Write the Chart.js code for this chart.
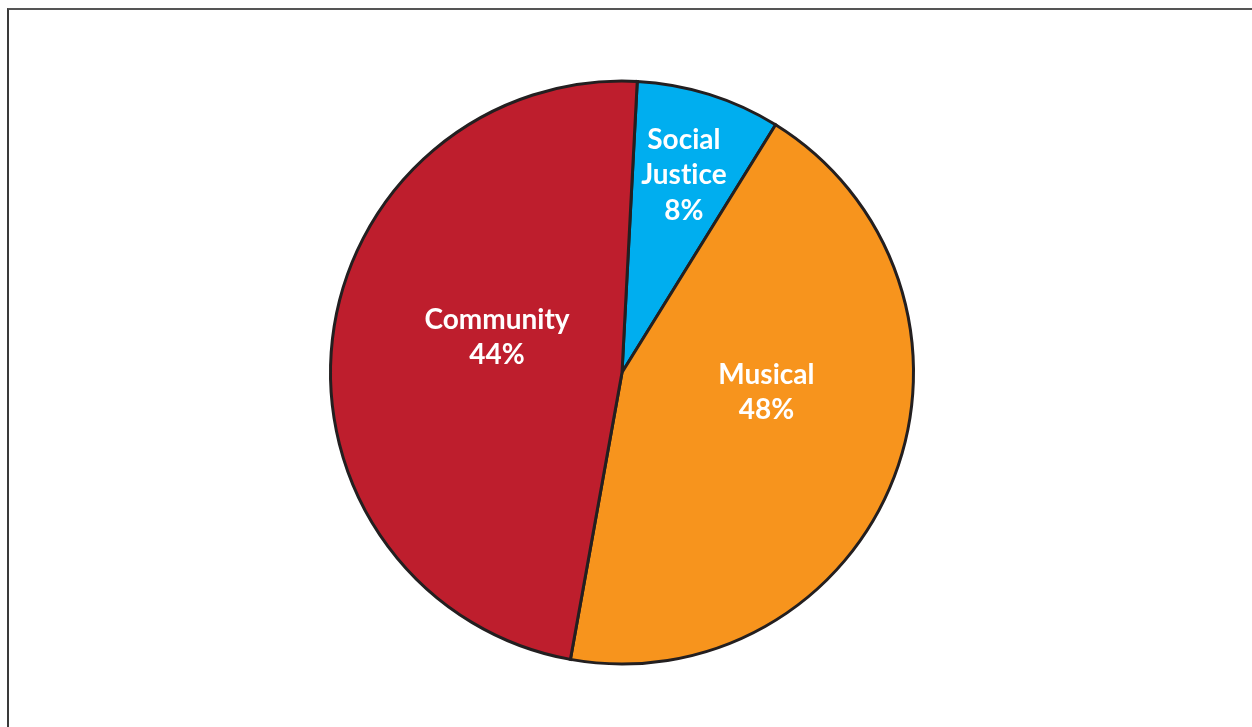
<!DOCTYPE html>
<html>
<head>
<meta charset="utf-8">
<script src="https://cdn.jsdelivr.net/npm/chart.js@4/dist/chart.umd.min.js"></script>
<style>
  html, body { margin: 0; padding: 0; background: #fff; overflow: hidden; }
  #wrap { position: relative; width: 1252px; height: 727px; }
  #frame { position: absolute; left: 7px; top: 8px; width: 1300px; height: 800px;
           border-left: 2px solid #3a3a3a; border-top: 2px solid #555; box-sizing: border-box; }
  canvas { position: absolute; left: 0; top: 0; }
</style>
</head>
<body>
<div id="wrap">
  <div id="frame"></div>
  <canvas id="c" width="1252" height="727"></canvas>
</div>
<script>
// Data (slice sizes as drawn; label texts as printed)
const categories = ["Social Justice", "Musical", "Community"];
const sliceValues = [8, 44, 48];
const labelLines = [["Social", "Justice", "8%"], ["Musical", "48%"], ["Community", "44%"]];
const sliceColors = ["#00AEEF", "#F7941D", "#BE1E2D"];

const labelPlugin = {
  id: 'sliceLabels',
  afterDatasetsDraw(chart, args, opts) {
    const ctx = chart.ctx;
    const meta = chart.getDatasetMeta(0);
    meta.data.forEach((arc, i) => {
      const p = opts.place[i];
      const a = arc.startAngle + (arc.endAngle - arc.startAngle) * p.t;
      const r = arc.outerRadius * p.r;
      const cx = arc.x + Math.cos(a) * r;
      const cy = arc.y + Math.sin(a) * r;
      const lines = labelLines[i];
      const lh = opts.lineHeight;
      ctx.save();
      ctx.fillStyle = '#ffffff';
      ctx.font = opts.font;
      ctx.textAlign = 'center';
      ctx.textBaseline = 'middle';
      const y0 = cy - (lines.length - 1) * lh / 2;
      lines.forEach((ln, k) => ctx.fillText(ln.replace(/ti/g, 't\u200Ci'), cx, y0 + k * lh));
      ctx.restore();
    });
  }
};

new Chart(document.getElementById('c'), {
  type: 'pie',
  data: {
    labels: categories,
    datasets: [{
      data: sliceValues,
      backgroundColor: sliceColors,
      borderColor: '#231F20',
      borderWidth: 3,
      borderJoinStyle: 'miter'
    }]
  },
  options: {
    responsive: false,
    animation: false,
    rotation: 3,
    radius: 291.5,
    layout: { padding: { left: 0, right: 8, top: 18, bottom: 0 } },
    plugins: {
      legend: { display: false },
      tooltip: { enabled: false },
      sliceLabels: {
        font: '700 28px Lato',
        lineHeight: 35.5,
        place: [{ t: 0.5, r: 0.71 }, { t: 0.417, r: 0.50 }, { t: 0.552, r: 0.445 }]
      }
    }
  },
  plugins: [labelPlugin]
});
</script>
</body>
</html>
